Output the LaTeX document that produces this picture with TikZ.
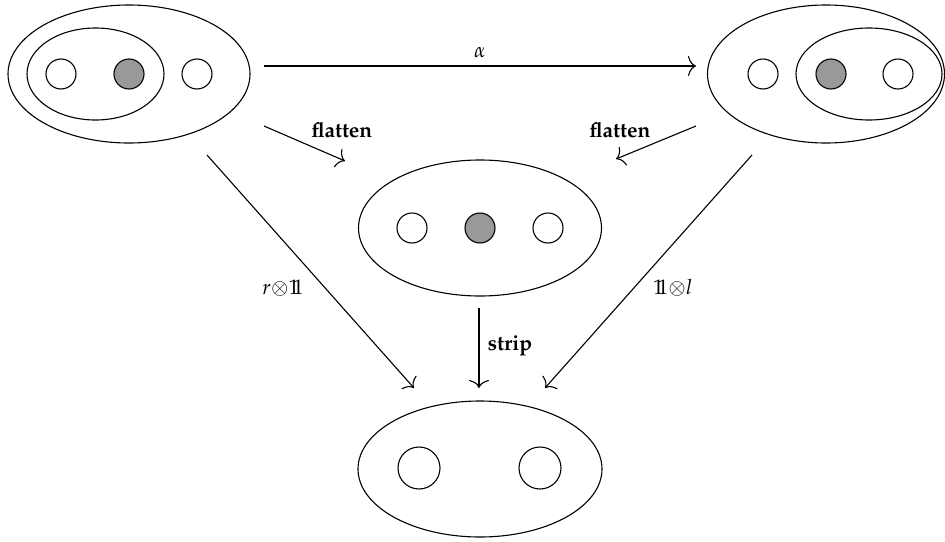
\documentclass[tikz,border=0pt]{standalone}
\usepackage[T1]{fontenc}
\usepackage{mathpazo}
\usetikzlibrary{shapes.geometric,arrows.meta}
\newcommand{\dsone}{\mathrm{1}\mkern-5mu\mathrm{1}}
\begin{document}
\begin{tikzpicture}[x=1pt,y=-1pt,line width=1.1pt,
  blob/.style={draw,ellipse,inner sep=0pt},
  wdot/.style={draw,circle,fill=white,inner sep=0pt,minimum size=30pt},
  gdot/.style={draw,circle,fill=black!40,inner sep=0pt,minimum size=30pt},
  bdot/.style={draw,circle,fill=white,inner sep=0pt,minimum size=42pt},
  lbl/.style={font=\fontsize{21}{25}\selectfont\bfseries},
  mlbl/.style={font=\fontsize{21}{25}\selectfont},
  arr/.style={-{To[length=8pt,width=20pt]},line width=1.1pt}]
\useasboundingbox (0,0) rectangle (945,541);
% top-left
\node[blob,minimum width=242pt,minimum height=138pt] (TL) at (129,74) {};
\node[blob,minimum width=137pt,minimum height=92pt] (TLi) at (95.5,74) {};
\node[wdot] (TLa) at (61,74) {};
\node[gdot] (TLb) at (129,74) {};
\node[wdot] (TLc) at (197,74) {};
% top-right
\node[blob,minimum width=237pt,minimum height=138pt] (TR) at (826,74) {};
\node[blob,minimum width=146pt,minimum height=92pt] (TRi) at (869,74) {};
\node[wdot] (TRa) at (763,74) {};
\node[gdot] (TRb) at (831,74) {};
\node[wdot] (TRc) at (898,74) {};
% middle
\node[blob,minimum width=243pt,minimum height=136pt] (M) at (480,228) {};
\node[wdot] (Ma) at (412,228) {};
\node[gdot] (Mb) at (480,228) {};
\node[wdot] (Mc) at (548,228) {};
% bottom
\node[blob,minimum width=244pt,minimum height=136pt] (B) at (480,469) {};
\node[bdot] (Ba) at (419,468) {};
\node[bdot] (Bb) at (540,468) {};
% arrow end points
\coordinate (a1) at (264,66);  \coordinate (a2) at (696,66);
\coordinate (f1) at (264,126); \coordinate (f2) at (345,161);
\coordinate (g1) at (696,126); \coordinate (g2) at (616,159);
\coordinate (d1) at (207,155); \coordinate (d2) at (414,388);
\coordinate (e1) at (752,155); \coordinate (e2) at (545,388);
\coordinate (s1) at (479,308); \coordinate (s2) at (479,388);
\draw[arr] (a1) -- (a2);
\draw[arr] (f1) -- (f2);
\draw[arr] (g1) -- (g2);
\draw[arr] (d1) -- (d2);
\draw[arr] (e1) -- (e2);
\draw[arr] (s1) -- (s2);
% labels
\node[mlbl] (la) at (480,53) {$\alpha$};
\node[lbl] (lf1) at (342,130) {flatten};
\node[lbl] (lf2) at (620,130) {flatten};
\node[lbl] (ls) at (510,346) {strip};
\node[mlbl] (lr) at (283,288) {$r{\otimes}\dsone$};
\node[mlbl] (ll) at (673,288) {$\dsone{\otimes}l$};
\end{tikzpicture}
\end{document}
